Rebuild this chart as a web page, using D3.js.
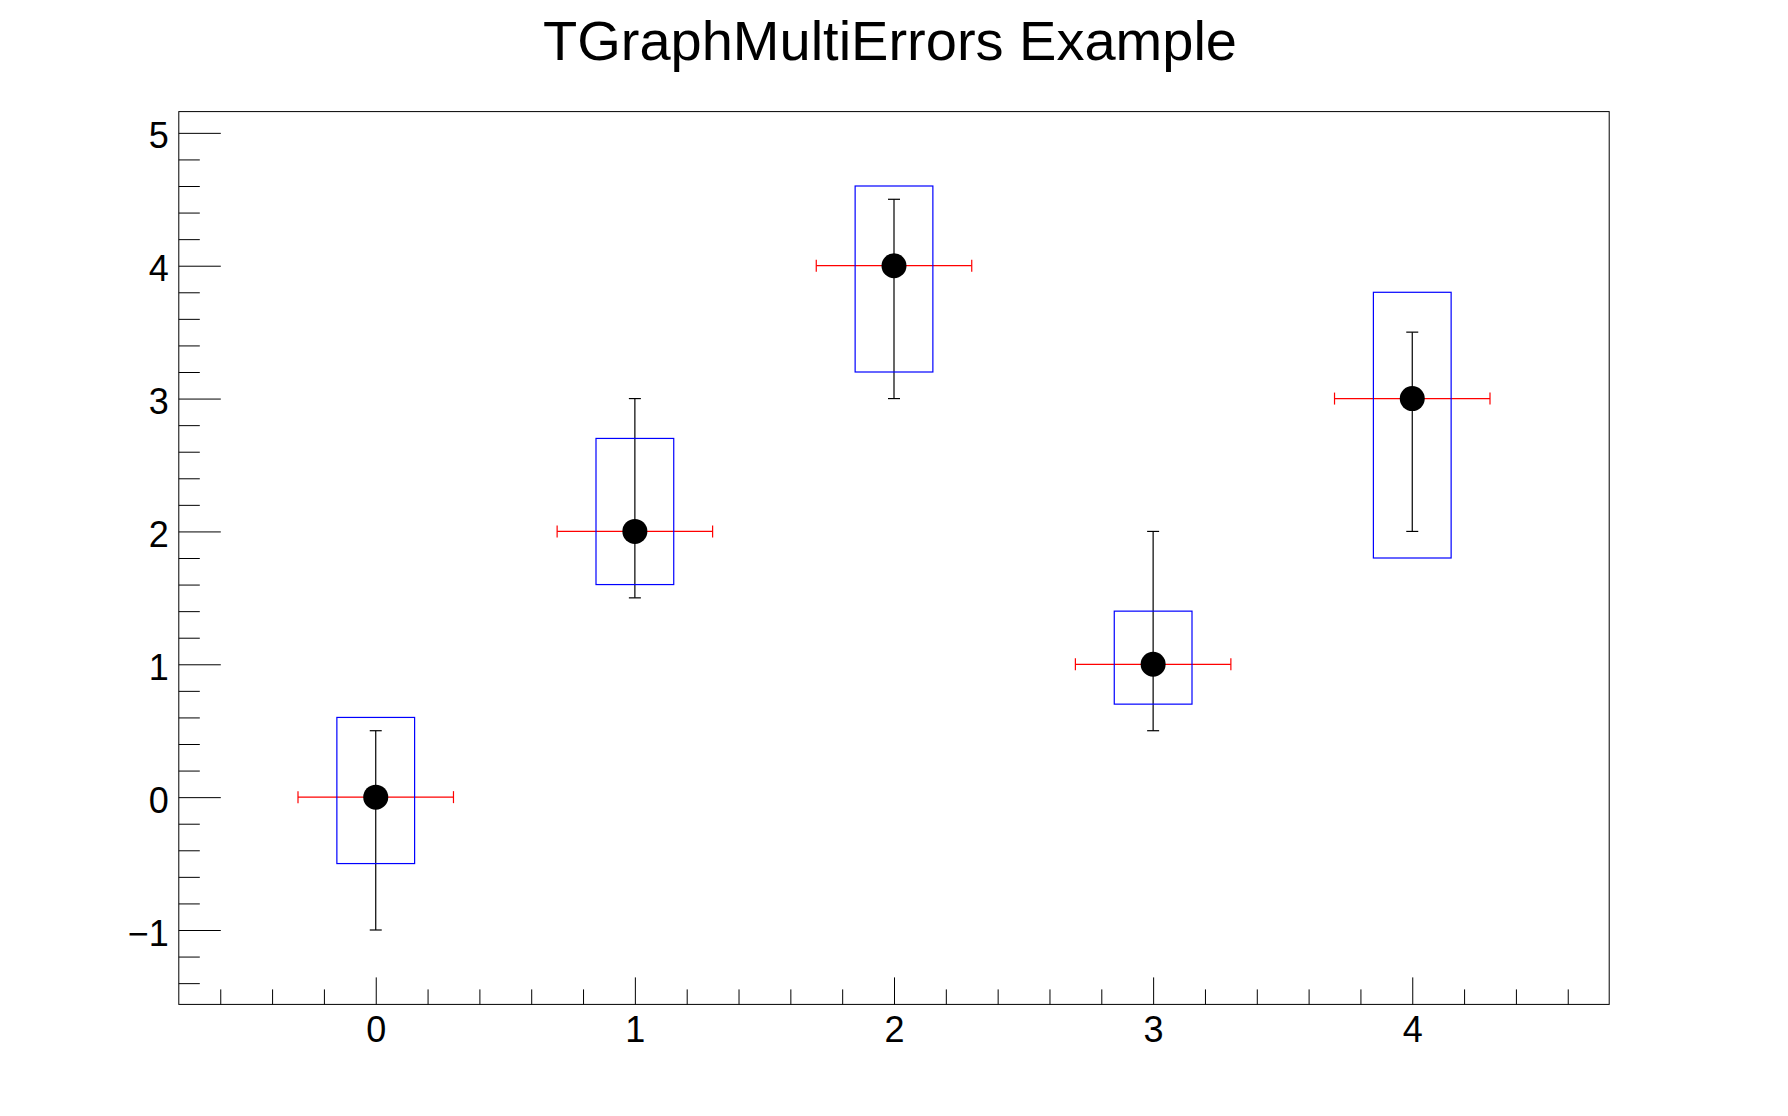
<!DOCTYPE html>
<html>
<head>
<meta charset="utf-8">
<script src="https://cdn.jsdelivr.net/npm/d3@7"></script>
<style>
  html, body { margin: 0; padding: 0; background: #fff; }
  svg { display: block; }
  text { font-family: "Liberation Sans", Arial, Helvetica, sans-serif; fill: #000; }
</style>
</head>
<body>
<script>
// ---- data ----
const titleText = "TGraphMultiErrors Example";
const xs   = [0, 1, 2, 3, 4];
const ys   = [0, 2, 4, 1, 3];
const exl  = [0.3, 0.3, 0.3, 0.3, 0.3];
const exh  = [0.3, 0.3, 0.3, 0.3, 0.3];
// error set 1 (black bars)
const eyl1 = [1.0, 0.5, 1.0, 0.5, 1.0];
const eyh1 = [0.5, 1.0, 0.5, 1.0, 0.5];
// error set 2 (blue boxes)
const eyl2 = [0.5, 0.4, 0.8, 0.3, 1.2];
const eyh2 = [0.6, 0.7, 0.6, 0.4, 0.8];
const boxHalfWidth = [0.15, 0.15, 0.15, 0.15, 0.15];
const xMajorTicks = [0, 1, 2, 3, 4];
const yMajorTicks = [-1, 0, 1, 2, 3, 4, 5];
const xDomain = [-0.76, 4.76];
const yDomain = [-1.56, 5.16];

// ---- layout ----
const W = 1788, H = 1116;
const L = 178.8, R = 1609.2, T = 111.6, B = 1004.4;

const svg = d3.select("body").append("svg").attr("width", W).attr("height", H);
svg.append("rect").attr("width", W).attr("height", H).attr("fill", "#fff");

const x = d3.scaleLinear().domain(xDomain).range([L, R]);
const y = d3.scaleLinear().domain(yDomain).range([B, T]);

const xMinor = d3.range(-0.6, 4.7, 0.2).map(v => Math.round(v * 10) / 10).filter(v => !xMajorTicks.includes(v));
const yMinor = d3.range(-1.4, 5.1, 0.2).map(v => Math.round(v * 10) / 10).filter(v => !yMajorTicks.includes(v));

// title
svg.append("text").attr("x", 890).attr("y", 60).attr("text-anchor", "middle")
  .style("font-size", "56px").text(titleText);

// axes
const fmt = d3.format("d");
const gx = svg.append("g").attr("transform", `translate(0,${B})`)
  .call(d3.axisBottom(x).tickValues(xMajorTicks).tickSize(-27).tickSizeOuter(0).tickPadding(12).tickFormat(fmt));
const gxm = svg.append("g").attr("transform", `translate(0,${B})`)
  .call(d3.axisBottom(x).tickValues(xMinor).tickSize(-15).tickSizeOuter(0).tickFormat(""));
const gy = svg.append("g").attr("transform", `translate(${L},0)`)
  .call(d3.axisLeft(y).tickValues(yMajorTicks).tickSize(-42).tickSizeOuter(0).tickPadding(10).tickFormat(fmt));
const gym = svg.append("g").attr("transform", `translate(${L},0)`)
  .call(d3.axisLeft(y).tickValues(yMinor).tickSize(-21).tickSizeOuter(0).tickFormat(""));
[gx, gxm, gy, gym].forEach(g => {
  g.select(".domain").remove();
  g.selectAll("line").attr("stroke", "#000").attr("stroke-width", 1);
  g.selectAll("text").style("font-size", "36px").style("font-family", '"Liberation Sans", Arial, sans-serif').attr("fill", "#000");
});
gy.selectAll("text").attr("dy", "0.42em");

// frame
svg.append("rect").attr("x", L).attr("y", T).attr("width", R - L).attr("height", B - T)
  .attr("fill", "none").attr("stroke", "#000").attr("stroke-width", 1);

const idx = d3.range(xs.length);
const cap = 6;

// red x error bars
const gr = svg.append("g").attr("stroke", "#ff0000").attr("stroke-width", 1.2).attr("fill", "none");
idx.forEach(i => {
  const yy = y(ys[i]), x0 = x(xs[i] - exl[i]), x1 = x(xs[i] + exh[i]);
  gr.append("line").attr("x1", x0).attr("x2", x1).attr("y1", yy).attr("y2", yy);
  gr.append("line").attr("x1", x0).attr("x2", x0).attr("y1", yy - cap).attr("y2", yy + cap);
  gr.append("line").attr("x1", x1).attr("x2", x1).attr("y1", yy - cap).attr("y2", yy + cap);
});

// black y error bars
const gb = svg.append("g").attr("stroke", "#000").attr("stroke-width", 1.2).attr("fill", "none");
idx.forEach(i => {
  const xx = x(xs[i]), y0 = y(ys[i] - eyl1[i]), y1 = y(ys[i] + eyh1[i]);
  gb.append("line").attr("x1", xx).attr("x2", xx).attr("y1", y0).attr("y2", y1);
  gb.append("line").attr("x1", xx - cap).attr("x2", xx + cap).attr("y1", y0).attr("y2", y0);
  gb.append("line").attr("x1", xx - cap).attr("x2", xx + cap).attr("y1", y1).attr("y2", y1);
});

// blue boxes
svg.append("g").selectAll("rect").data(idx).join("rect")
  .attr("x", i => x(xs[i] - boxHalfWidth[i]))
  .attr("width", i => x(xs[i] + boxHalfWidth[i]) - x(xs[i] - boxHalfWidth[i]))
  .attr("y", i => y(ys[i] + eyh2[i]))
  .attr("height", i => y(ys[i] - eyl2[i]) - y(ys[i] + eyh2[i]))
  .attr("fill", "none").attr("stroke", "#0000ff").attr("stroke-width", 1.2);

// markers
svg.append("g").selectAll("circle").data(idx).join("circle")
  .attr("cx", i => x(xs[i])).attr("cy", i => y(ys[i])).attr("r", 12.5).attr("fill", "#000");
</script>
</body>
</html>
